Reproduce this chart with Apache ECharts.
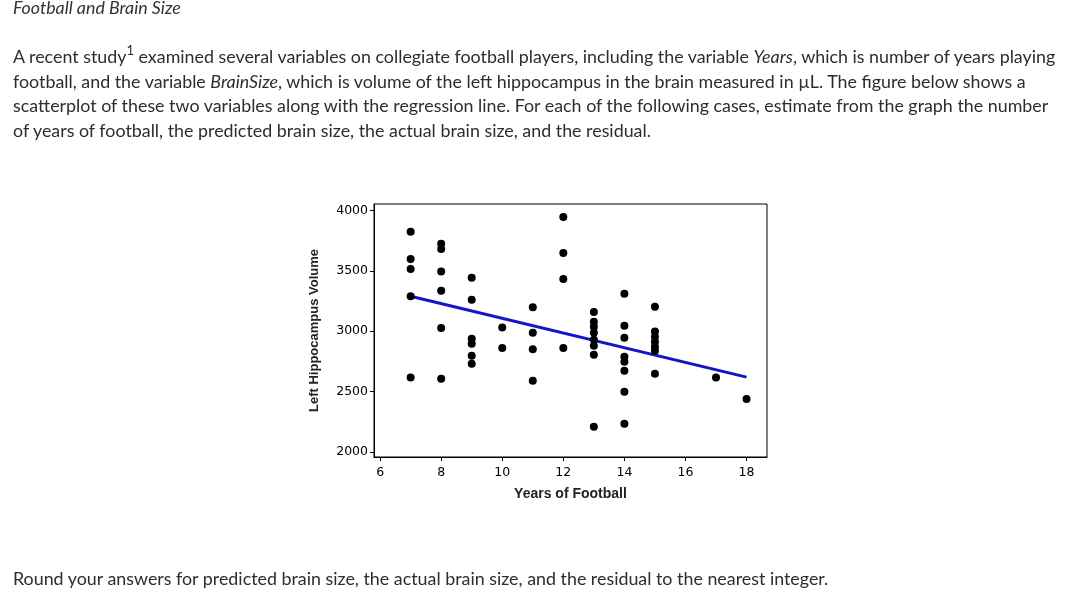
<!DOCTYPE html>
<html>
<head>
<meta charset="utf-8">
<script src="https://cdn.jsdelivr.net/npm/echarts@6/dist/echarts.min.js"></script>
<style>
  html, body { margin: 0; padding: 0; background: #fff; }
  body { width: 1065px; height: 605px; position: relative; overflow: hidden; font-family: Lato, "Open Sans", sans-serif; color: #2d2d2d; }
  #chart { position: absolute; left: 0; top: 0; width: 1065px; height: 605px; }
  .t { position: absolute; white-space: nowrap; font-size: 17.85px; }
  #title { left: 13px; top: -4px; font-style: italic; font-size: 17.8px; color: #333; }
  #para { left: 13px; top: 44px; line-height: 24.7px; }
  #para sup { font-size: 13px; line-height: 0; position: relative; top: -1px; }
  #foot { left: 13px; top: 567px; }
</style>
</head>
<body>
<div id="chart"></div>
<div class="t" id="title">Football and Brain Size</div>
<div class="t" id="para">A recent study<sup>1</sup> examined several variables on collegiate football players, including the variable <i>Years</i>, which is number of years playing<br>football, and the variable <i>BrainSize</i>, which is volume of the left hippocampus in the brain measured in µL. The figure below shows a<br>scatterplot of these two variables along with the regression line. For each of the following cases, estimate from the graph the number<br>of years of football, the predicted brain size, the actual brain size, and the residual.</div>
<div class="t" id="foot">Round your answers for predicted brain size, the actual brain size, and the residual to the nearest integer.</div>
<script>
const years = [
  7, 7, 7, 7, 7,
  8, 8, 8, 8, 8, 8,
  9, 9, 9, 9, 9, 9,
  10, 10,
  11, 11, 11, 11,
  12, 12, 12, 12,
  13, 13, 13, 13, 13, 13, 13, 13,
  14, 14, 14, 14, 14, 14, 14, 14,
  15, 15, 15, 15, 15, 15, 15,
  17,
  18
];
const brainSize = [
  3824, 3598, 3515, 3290, 2618,
  3724, 3680, 3495, 3335, 3026, 2607,
  3442, 3261, 2938, 2897, 2797, 2731,
  3031, 2861,
  3199, 2988, 2851, 2590,
  3945, 3647, 3432, 2861,
  3159, 3078, 3037, 2988, 2930, 2880, 2806, 2210,
  3310, 3046, 2946, 2789, 2748, 2673, 2500, 2235,
  3203, 2998, 2955, 2913, 2872, 2839, 2648,
  2618,
  2439
];
const lineYears = [7, 18];
const lineValues = [3290, 2620];
const xTicks = [6, 8, 10, 12, 14, 16, 18];
const yTicks = [2000, 2500, 3000, 3500, 4000];
const xTitle = 'Years of Football';
const yTitle = 'Left Hippocampus Volume';

const chart = echarts.init(document.getElementById('chart'), null, { renderer: 'canvas' });
const labelFont = { fontFamily: 'DejaVu Sans', fontSize: 12.5, color: '#000' };
chart.setOption({
  animation: false,
  backgroundColor: '#fff',
  grid: { left: 374, top: 204, right: 298, bottom: 148, show: true, borderColor: '#000', borderWidth: 1, outerBoundsMode: 'none', containLabel: false },
  xAxis: {
    type: 'value', min: 5.8, max: 18.67,
    name: xTitle, nameLocation: 'middle', nameGap: 30,
    nameTextStyle: { fontFamily: 'Liberation Sans', fontWeight: 'bold', fontSize: 14, color: '#222' },
    axisLine: { show: true, onZero: false, lineStyle: { color: '#000', width: 1 } },
    axisTick: { show: true, inside: false, length: 4, customValues: xTicks, lineStyle: { color: '#000' } },
    axisLabel: Object.assign({ customValues: xTicks, margin: 9, formatter: v => String(v) }, labelFont),
    splitLine: { show: false }
  },
  yAxis: {
    type: 'value', min: 1959, max: 4053,
    name: yTitle, nameLocation: 'middle', nameGap: 53, nameRotate: 90,
    nameTextStyle: { fontFamily: 'Liberation Sans', fontWeight: 'bold', fontSize: 13, color: '#222' },
    axisLine: { show: true, onZero: false, lineStyle: { color: '#000', width: 1 } },
    axisTick: { show: true, inside: false, length: 4, customValues: yTicks, lineStyle: { color: '#000' } },
    axisLabel: Object.assign({ customValues: yTicks, margin: 6, formatter: v => String(v) }, labelFont),
    splitLine: { show: false }
  },
  series: [
    {
      type: 'line',
      data: lineYears.map((x, i) => [x, lineValues[i]]),
      showSymbol: false, symbol: 'none',
      lineStyle: { color: '#1414c8', width: 3 },
      z: 1
    },
    {
      type: 'scatter',
      data: years.map((x, i) => [x, brainSize[i]]),
      symbol: 'circle', symbolSize: 8,
      itemStyle: { color: '#000', opacity: 1 },
      z: 2
    }
  ]
});
</script>
</body>
</html>
